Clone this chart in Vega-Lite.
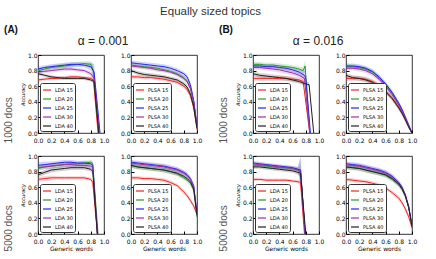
{
"$schema":"https://vega.github.io/schema/vega-lite/v6.json",
"padding":{"left":4,"top":6,"right":6,"bottom":2},
"title":{"text":"Equally sized topics","fontSize":11.5,"font":"Liberation Sans","fontWeight":"normal","color":"#333","anchor":"middle","offset":7},
"config":{
 "view":{"stroke":"#000","strokeWidth":0.8},
 "axis":{"labelFont":"DejaVu Sans","labelFontSize":6,"labelColor":"#000","tickColor":"#000","tickSize":-3,"labelPadding":4,"labelOverlap":false,"labelFlush":false,"domain":false,"grid":false,"titleColor":"#000","titleFont":"DejaVu Sans","titleFontWeight":"normal"},
 "axisY":{"titleFontSize":5,"titleFontStyle":"italic","titlePadding":2,"titleColor":"#000"},
 "axisX":{"titleFontSize":6,"titlePadding":1,"titleColor":"#000","labelPadding":7},
 "legend":{"orient":"bottom-left","title":null,"symbolType":"stroke","symbolStrokeWidth":1.2,"symbolSize":64,"symbolOpacity":1,"labelFontSize":5,"labelFont":"DejaVu Sans","labelColor":"#000","strokeColor":"#333","fillColor":"#fff","padding":2,"rowPadding":1,"offset":2,"cornerRadius":2,"labelOffset":3},
 "title":{"font":"Liberation Sans","fontWeight":"normal","color":"#333"}
},
"datasets":{
"A1L":[
{"s":"LDA 15","x":0,"y":0.68,"e":0.02},{"s":"LDA 15","x":0.1,"y":0.69,"e":0.02},{"s":"LDA 15","x":0.2,"y":0.70,"e":0.02},{"s":"LDA 15","x":0.3,"y":0.70,"e":0.02},{"s":"LDA 15","x":0.4,"y":0.71,"e":0.02},{"s":"LDA 15","x":0.5,"y":0.72,"e":0.02},{"s":"LDA 15","x":0.6,"y":0.72,"e":0.02},{"s":"LDA 15","x":0.7,"y":0.71,"e":0.02},{"s":"LDA 15","x":0.8,"y":0.70,"e":0.02},{"s":"LDA 15","x":0.84,"y":0.68,"e":0.04},{"s":"LDA 15","x":0.91,"y":0,"e":0.03},
{"s":"LDA 20","x":0,"y":0.80,"e":0.03},{"s":"LDA 20","x":0.1,"y":0.82,"e":0.03},{"s":"LDA 20","x":0.2,"y":0.84,"e":0.03},{"s":"LDA 20","x":0.3,"y":0.85,"e":0.03},{"s":"LDA 20","x":0.4,"y":0.86,"e":0.03},{"s":"LDA 20","x":0.5,"y":0.87,"e":0.03},{"s":"LDA 20","x":0.6,"y":0.88,"e":0.03},{"s":"LDA 20","x":0.7,"y":0.89,"e":0.03},{"s":"LDA 20","x":0.8,"y":0.88,"e":0.04},{"s":"LDA 20","x":0.84,"y":0.80,"e":0.08},{"s":"LDA 20","x":0.92,"y":0,"e":0.03},
{"s":"LDA 25","x":0,"y":0.82,"e":0.03},{"s":"LDA 25","x":0.1,"y":0.84,"e":0.03},{"s":"LDA 25","x":0.2,"y":0.85,"e":0.03},{"s":"LDA 25","x":0.3,"y":0.86,"e":0.03},{"s":"LDA 25","x":0.4,"y":0.87,"e":0.03},{"s":"LDA 25","x":0.5,"y":0.88,"e":0.03},{"s":"LDA 25","x":0.6,"y":0.88,"e":0.03},{"s":"LDA 25","x":0.7,"y":0.87,"e":0.03},{"s":"LDA 25","x":0.8,"y":0.85,"e":0.05},{"s":"LDA 25","x":0.85,"y":0.78,"e":0.1},{"s":"LDA 25","x":0.94,"y":0,"e":0.03},
{"s":"LDA 30","x":0,"y":0.78,"e":0.025},{"s":"LDA 30","x":0.1,"y":0.79,"e":0.025},{"s":"LDA 30","x":0.2,"y":0.80,"e":0.025},{"s":"LDA 30","x":0.3,"y":0.81,"e":0.025},{"s":"LDA 30","x":0.4,"y":0.82,"e":0.025},{"s":"LDA 30","x":0.5,"y":0.82,"e":0.025},{"s":"LDA 30","x":0.6,"y":0.81,"e":0.025},{"s":"LDA 30","x":0.7,"y":0.80,"e":0.025},{"s":"LDA 30","x":0.8,"y":0.76,"e":0.03},{"s":"LDA 30","x":0.85,"y":0.70,"e":0.05},{"s":"LDA 30","x":0.93,"y":0,"e":0.03},
{"s":"LDA 40","x":0,"y":0.76,"e":0.02},{"s":"LDA 40","x":0.1,"y":0.74,"e":0.02},{"s":"LDA 40","x":0.2,"y":0.72,"e":0.02},{"s":"LDA 40","x":0.3,"y":0.71,"e":0.02},{"s":"LDA 40","x":0.4,"y":0.70,"e":0.02},{"s":"LDA 40","x":0.5,"y":0.70,"e":0.02},{"s":"LDA 40","x":0.6,"y":0.70,"e":0.02},{"s":"LDA 40","x":0.7,"y":0.70,"e":0.02},{"s":"LDA 40","x":0.8,"y":0.68,"e":0.02},{"s":"LDA 40","x":0.85,"y":0.66,"e":0.03},{"s":"LDA 40","x":0.92,"y":0,"e":0.03}
],
"A1P":[
{"s":"PLSA 15","x":0,"y":0.72,"e":0.025},{"s":"PLSA 15","x":0.1,"y":0.72,"e":0.025},{"s":"PLSA 15","x":0.2,"y":0.71,"e":0.025},{"s":"PLSA 15","x":0.3,"y":0.71,"e":0.025},{"s":"PLSA 15","x":0.4,"y":0.70,"e":0.025},{"s":"PLSA 15","x":0.5,"y":0.69,"e":0.025},{"s":"PLSA 15","x":0.6,"y":0.67,"e":0.025},{"s":"PLSA 15","x":0.7,"y":0.65,"e":0.025},{"s":"PLSA 15","x":0.8,"y":0.60,"e":0.03},{"s":"PLSA 15","x":0.85,"y":0.56,"e":0.03},{"s":"PLSA 15","x":0.9,"y":0.48,"e":0.03},{"s":"PLSA 15","x":0.95,"y":0.32,"e":0.03},{"s":"PLSA 15","x":1,"y":0.05,"e":0.03},
{"s":"PLSA 20","x":0,"y":0.87,"e":0.025},{"s":"PLSA 20","x":0.1,"y":0.86,"e":0.025},{"s":"PLSA 20","x":0.2,"y":0.85,"e":0.025},{"s":"PLSA 20","x":0.3,"y":0.84,"e":0.025},{"s":"PLSA 20","x":0.4,"y":0.83,"e":0.025},{"s":"PLSA 20","x":0.5,"y":0.81,"e":0.025},{"s":"PLSA 20","x":0.6,"y":0.79,"e":0.025},{"s":"PLSA 20","x":0.7,"y":0.76,"e":0.025},{"s":"PLSA 20","x":0.8,"y":0.71,"e":0.03},{"s":"PLSA 20","x":0.85,"y":0.67,"e":0.03},{"s":"PLSA 20","x":0.9,"y":0.58,"e":0.03},{"s":"PLSA 20","x":0.95,"y":0.40,"e":0.03},{"s":"PLSA 20","x":1,"y":0.08,"e":0.03},
{"s":"PLSA 25","x":0,"y":0.90,"e":0.03},{"s":"PLSA 25","x":0.1,"y":0.89,"e":0.03},{"s":"PLSA 25","x":0.2,"y":0.88,"e":0.03},{"s":"PLSA 25","x":0.3,"y":0.87,"e":0.03},{"s":"PLSA 25","x":0.4,"y":0.86,"e":0.03},{"s":"PLSA 25","x":0.5,"y":0.85,"e":0.03},{"s":"PLSA 25","x":0.6,"y":0.83,"e":0.03},{"s":"PLSA 25","x":0.7,"y":0.80,"e":0.03},{"s":"PLSA 25","x":0.8,"y":0.76,"e":0.03},{"s":"PLSA 25","x":0.85,"y":0.72,"e":0.03},{"s":"PLSA 25","x":0.9,"y":0.62,"e":0.03},{"s":"PLSA 25","x":0.95,"y":0.42,"e":0.03},{"s":"PLSA 25","x":1,"y":0.08,"e":0.03},
{"s":"PLSA 30","x":0,"y":0.86,"e":0.025},{"s":"PLSA 30","x":0.1,"y":0.85,"e":0.025},{"s":"PLSA 30","x":0.2,"y":0.84,"e":0.025},{"s":"PLSA 30","x":0.3,"y":0.83,"e":0.025},{"s":"PLSA 30","x":0.4,"y":0.81,"e":0.025},{"s":"PLSA 30","x":0.5,"y":0.80,"e":0.025},{"s":"PLSA 30","x":0.6,"y":0.78,"e":0.025},{"s":"PLSA 30","x":0.7,"y":0.75,"e":0.025},{"s":"PLSA 30","x":0.8,"y":0.70,"e":0.03},{"s":"PLSA 30","x":0.85,"y":0.66,"e":0.03},{"s":"PLSA 30","x":0.9,"y":0.57,"e":0.03},{"s":"PLSA 30","x":0.95,"y":0.40,"e":0.03},{"s":"PLSA 30","x":1,"y":0.08,"e":0.03},
{"s":"PLSA 40","x":0,"y":0.80,"e":0.025},{"s":"PLSA 40","x":0.1,"y":0.77,"e":0.025},{"s":"PLSA 40","x":0.2,"y":0.75,"e":0.025},{"s":"PLSA 40","x":0.3,"y":0.74,"e":0.025},{"s":"PLSA 40","x":0.4,"y":0.73,"e":0.025},{"s":"PLSA 40","x":0.5,"y":0.72,"e":0.025},{"s":"PLSA 40","x":0.6,"y":0.70,"e":0.025},{"s":"PLSA 40","x":0.7,"y":0.68,"e":0.025},{"s":"PLSA 40","x":0.8,"y":0.63,"e":0.03},{"s":"PLSA 40","x":0.85,"y":0.59,"e":0.03},{"s":"PLSA 40","x":0.9,"y":0.50,"e":0.03},{"s":"PLSA 40","x":0.95,"y":0.34,"e":0.03},{"s":"PLSA 40","x":1,"y":0.06,"e":0.03}
],
"A2L":[
{"s":"LDA 15","x":0,"y":0.70,"e":0.03},{"s":"LDA 15","x":0.1,"y":0.71,"e":0.03},{"s":"LDA 15","x":0.2,"y":0.72,"e":0.03},{"s":"LDA 15","x":0.3,"y":0.72,"e":0.02},{"s":"LDA 15","x":0.4,"y":0.72,"e":0.02},{"s":"LDA 15","x":0.5,"y":0.72,"e":0.02},{"s":"LDA 15","x":0.6,"y":0.72,"e":0.02},{"s":"LDA 15","x":0.7,"y":0.72,"e":0.02},{"s":"LDA 15","x":0.8,"y":0.70,"e":0.02},{"s":"LDA 15","x":0.83,"y":0.66,"e":0.03},{"s":"LDA 15","x":0.9,"y":0,"e":0.03},
{"s":"LDA 20","x":0,"y":0.84,"e":0.03},{"s":"LDA 20","x":0.1,"y":0.86,"e":0.03},{"s":"LDA 20","x":0.2,"y":0.87,"e":0.03},{"s":"LDA 20","x":0.3,"y":0.88,"e":0.03},{"s":"LDA 20","x":0.4,"y":0.89,"e":0.03},{"s":"LDA 20","x":0.5,"y":0.90,"e":0.03},{"s":"LDA 20","x":0.6,"y":0.90,"e":0.03},{"s":"LDA 20","x":0.7,"y":0.91,"e":0.03},{"s":"LDA 20","x":0.8,"y":0.92,"e":0.03},{"s":"LDA 20","x":0.83,"y":0.90,"e":0.04},{"s":"LDA 20","x":0.91,"y":0,"e":0.03},
{"s":"LDA 25","x":0,"y":0.88,"e":0.04},{"s":"LDA 25","x":0.1,"y":0.89,"e":0.04},{"s":"LDA 25","x":0.2,"y":0.90,"e":0.03},{"s":"LDA 25","x":0.3,"y":0.91,"e":0.03},{"s":"LDA 25","x":0.4,"y":0.92,"e":0.03},{"s":"LDA 25","x":0.5,"y":0.92,"e":0.03},{"s":"LDA 25","x":0.6,"y":0.91,"e":0.03},{"s":"LDA 25","x":0.7,"y":0.91,"e":0.03},{"s":"LDA 25","x":0.8,"y":0.90,"e":0.03},{"s":"LDA 25","x":0.83,"y":0.88,"e":0.04},{"s":"LDA 25","x":0.9,"y":0,"e":0.03},
{"s":"LDA 30","x":0,"y":0.85,"e":0.03},{"s":"LDA 30","x":0.1,"y":0.86,"e":0.03},{"s":"LDA 30","x":0.2,"y":0.87,"e":0.03},{"s":"LDA 30","x":0.3,"y":0.88,"e":0.03},{"s":"LDA 30","x":0.4,"y":0.89,"e":0.03},{"s":"LDA 30","x":0.5,"y":0.89,"e":0.03},{"s":"LDA 30","x":0.6,"y":0.88,"e":0.03},{"s":"LDA 30","x":0.7,"y":0.88,"e":0.03},{"s":"LDA 30","x":0.8,"y":0.87,"e":0.03},{"s":"LDA 30","x":0.83,"y":0.85,"e":0.03},{"s":"LDA 30","x":0.9,"y":0,"e":0.03},
{"s":"LDA 40","x":0,"y":0.76,"e":0.03},{"s":"LDA 40","x":0.1,"y":0.79,"e":0.03},{"s":"LDA 40","x":0.2,"y":0.82,"e":0.03},{"s":"LDA 40","x":0.3,"y":0.83,"e":0.03},{"s":"LDA 40","x":0.4,"y":0.84,"e":0.03},{"s":"LDA 40","x":0.5,"y":0.85,"e":0.03},{"s":"LDA 40","x":0.6,"y":0.85,"e":0.03},{"s":"LDA 40","x":0.7,"y":0.85,"e":0.03},{"s":"LDA 40","x":0.8,"y":0.83,"e":0.03},{"s":"LDA 40","x":0.83,"y":0.80,"e":0.03},{"s":"LDA 40","x":0.9,"y":0,"e":0.03}
],
"A2P":[
{"s":"PLSA 15","x":0,"y":0.72,"e":0.025},{"s":"PLSA 15","x":0.1,"y":0.72,"e":0.025},{"s":"PLSA 15","x":0.2,"y":0.71,"e":0.025},{"s":"PLSA 15","x":0.3,"y":0.71,"e":0.025},{"s":"PLSA 15","x":0.4,"y":0.70,"e":0.025},{"s":"PLSA 15","x":0.5,"y":0.69,"e":0.025},{"s":"PLSA 15","x":0.6,"y":0.66,"e":0.025},{"s":"PLSA 15","x":0.7,"y":0.62,"e":0.025},{"s":"PLSA 15","x":0.8,"y":0.54,"e":0.03},{"s":"PLSA 15","x":0.85,"y":0.49,"e":0.03},{"s":"PLSA 15","x":0.9,"y":0.43,"e":0.03},{"s":"PLSA 15","x":0.95,"y":0.36,"e":0.03},{"s":"PLSA 15","x":1,"y":0.25,"e":0.03},
{"s":"PLSA 20","x":0,"y":0.88,"e":0.03},{"s":"PLSA 20","x":0.1,"y":0.86,"e":0.03},{"s":"PLSA 20","x":0.2,"y":0.85,"e":0.03},{"s":"PLSA 20","x":0.3,"y":0.84,"e":0.03},{"s":"PLSA 20","x":0.4,"y":0.83,"e":0.03},{"s":"PLSA 20","x":0.5,"y":0.82,"e":0.03},{"s":"PLSA 20","x":0.6,"y":0.80,"e":0.03},{"s":"PLSA 20","x":0.7,"y":0.77,"e":0.03},{"s":"PLSA 20","x":0.8,"y":0.72,"e":0.03},{"s":"PLSA 20","x":0.85,"y":0.69,"e":0.03},{"s":"PLSA 20","x":0.9,"y":0.65,"e":0.03},{"s":"PLSA 20","x":0.95,"y":0.56,"e":0.03},{"s":"PLSA 20","x":1,"y":0.22,"e":0.03},
{"s":"PLSA 25","x":0,"y":0.92,"e":0.03},{"s":"PLSA 25","x":0.1,"y":0.91,"e":0.03},{"s":"PLSA 25","x":0.2,"y":0.90,"e":0.03},{"s":"PLSA 25","x":0.3,"y":0.89,"e":0.03},{"s":"PLSA 25","x":0.4,"y":0.88,"e":0.03},{"s":"PLSA 25","x":0.5,"y":0.87,"e":0.03},{"s":"PLSA 25","x":0.6,"y":0.85,"e":0.03},{"s":"PLSA 25","x":0.7,"y":0.83,"e":0.03},{"s":"PLSA 25","x":0.8,"y":0.79,"e":0.03},{"s":"PLSA 25","x":0.85,"y":0.76,"e":0.03},{"s":"PLSA 25","x":0.9,"y":0.71,"e":0.03},{"s":"PLSA 25","x":0.95,"y":0.62,"e":0.03},{"s":"PLSA 25","x":1,"y":0.26,"e":0.03},
{"s":"PLSA 30","x":0,"y":0.91,"e":0.03},{"s":"PLSA 30","x":0.1,"y":0.90,"e":0.03},{"s":"PLSA 30","x":0.2,"y":0.89,"e":0.03},{"s":"PLSA 30","x":0.3,"y":0.88,"e":0.03},{"s":"PLSA 30","x":0.4,"y":0.87,"e":0.03},{"s":"PLSA 30","x":0.5,"y":0.86,"e":0.03},{"s":"PLSA 30","x":0.6,"y":0.84,"e":0.03},{"s":"PLSA 30","x":0.7,"y":0.82,"e":0.03},{"s":"PLSA 30","x":0.8,"y":0.78,"e":0.03},{"s":"PLSA 30","x":0.85,"y":0.75,"e":0.03},{"s":"PLSA 30","x":0.9,"y":0.70,"e":0.03},{"s":"PLSA 30","x":0.95,"y":0.61,"e":0.03},{"s":"PLSA 30","x":1,"y":0.26,"e":0.03},
{"s":"PLSA 40","x":0,"y":0.88,"e":0.03},{"s":"PLSA 40","x":0.1,"y":0.86,"e":0.03},{"s":"PLSA 40","x":0.2,"y":0.85,"e":0.03},{"s":"PLSA 40","x":0.3,"y":0.84,"e":0.03},{"s":"PLSA 40","x":0.4,"y":0.83,"e":0.03},{"s":"PLSA 40","x":0.5,"y":0.82,"e":0.03},{"s":"PLSA 40","x":0.6,"y":0.80,"e":0.03},{"s":"PLSA 40","x":0.7,"y":0.78,"e":0.03},{"s":"PLSA 40","x":0.8,"y":0.74,"e":0.03},{"s":"PLSA 40","x":0.85,"y":0.71,"e":0.03},{"s":"PLSA 40","x":0.9,"y":0.67,"e":0.03},{"s":"PLSA 40","x":0.95,"y":0.58,"e":0.03},{"s":"PLSA 40","x":1,"y":0.24,"e":0.03}
],
"B1L":[
{"s":"LDA 15","x":0,"y":0.70,"e":0.03},{"s":"LDA 15","x":0.1,"y":0.70,"e":0.03},{"s":"LDA 15","x":0.2,"y":0.70,"e":0.03},{"s":"LDA 15","x":0.3,"y":0.70,"e":0.03},{"s":"LDA 15","x":0.4,"y":0.70,"e":0.03},{"s":"LDA 15","x":0.5,"y":0.70,"e":0.03},{"s":"LDA 15","x":0.6,"y":0.69,"e":0.03},{"s":"LDA 15","x":0.7,"y":0.68,"e":0.03},{"s":"LDA 15","x":0.76,"y":0.66,"e":0.04},{"s":"LDA 15","x":0.86,"y":0,"e":0.03},
{"s":"LDA 20","x":0,"y":0.88,"e":0.03},{"s":"LDA 20","x":0.1,"y":0.88,"e":0.03},{"s":"LDA 20","x":0.2,"y":0.87,"e":0.03},{"s":"LDA 20","x":0.3,"y":0.87,"e":0.03},{"s":"LDA 20","x":0.4,"y":0.86,"e":0.03},{"s":"LDA 20","x":0.5,"y":0.85,"e":0.03},{"s":"LDA 20","x":0.6,"y":0.84,"e":0.03},{"s":"LDA 20","x":0.7,"y":0.82,"e":0.03},{"s":"LDA 20","x":0.76,"y":0.80,"e":0.04},{"s":"LDA 20","x":0.79,"y":0.86,"e":0.08},{"s":"LDA 20","x":0.86,"y":0,"e":0.03},
{"s":"LDA 25","x":0,"y":0.86,"e":0.03},{"s":"LDA 25","x":0.1,"y":0.86,"e":0.03},{"s":"LDA 25","x":0.2,"y":0.85,"e":0.03},{"s":"LDA 25","x":0.3,"y":0.85,"e":0.03},{"s":"LDA 25","x":0.4,"y":0.84,"e":0.03},{"s":"LDA 25","x":0.5,"y":0.83,"e":0.03},{"s":"LDA 25","x":0.6,"y":0.81,"e":0.03},{"s":"LDA 25","x":0.7,"y":0.78,"e":0.03},{"s":"LDA 25","x":0.78,"y":0.74,"e":0.06},{"s":"LDA 25","x":0.8,"y":0.70,"e":0.1},{"s":"LDA 25","x":0.87,"y":0,"e":0.03},
{"s":"LDA 30","x":0,"y":0.84,"e":0.03},{"s":"LDA 30","x":0.1,"y":0.84,"e":0.03},{"s":"LDA 30","x":0.2,"y":0.83,"e":0.03},{"s":"LDA 30","x":0.3,"y":0.82,"e":0.03},{"s":"LDA 30","x":0.4,"y":0.81,"e":0.03},{"s":"LDA 30","x":0.5,"y":0.79,"e":0.03},{"s":"LDA 30","x":0.6,"y":0.77,"e":0.03},{"s":"LDA 30","x":0.7,"y":0.74,"e":0.03},{"s":"LDA 30","x":0.78,"y":0.70,"e":0.04},{"s":"LDA 30","x":0.86,"y":0,"e":0.03},
{"s":"LDA 40","x":0,"y":0.76,"e":0.03},{"s":"LDA 40","x":0.1,"y":0.74,"e":0.03},{"s":"LDA 40","x":0.2,"y":0.73,"e":0.03},{"s":"LDA 40","x":0.3,"y":0.72,"e":0.03},{"s":"LDA 40","x":0.4,"y":0.71,"e":0.03},{"s":"LDA 40","x":0.5,"y":0.70,"e":0.03},{"s":"LDA 40","x":0.6,"y":0.68,"e":0.03},{"s":"LDA 40","x":0.7,"y":0.66,"e":0.03},{"s":"LDA 40","x":0.8,"y":0.63,"e":0.03},{"s":"LDA 40","x":0.85,"y":0.62,"e":0.03},{"s":"LDA 40","x":0.92,"y":0,"e":0.03}
],
"B1P":[
{"s":"PLSA 15","x":0,"y":0.70,"e":0.03},{"s":"PLSA 15","x":0.1,"y":0.70,"e":0.03},{"s":"PLSA 15","x":0.2,"y":0.70,"e":0.03},{"s":"PLSA 15","x":0.3,"y":0.69,"e":0.03},{"s":"PLSA 15","x":0.4,"y":0.66,"e":0.03},{"s":"PLSA 15","x":0.5,"y":0.61,"e":0.03},{"s":"PLSA 15","x":0.6,"y":0.54,"e":0.03},{"s":"PLSA 15","x":0.7,"y":0.45,"e":0.03},{"s":"PLSA 15","x":0.8,"y":0.33,"e":0.03},{"s":"PLSA 15","x":0.85,"y":0.26,"e":0.03},{"s":"PLSA 15","x":0.9,"y":0.17,"e":0.03},{"s":"PLSA 15","x":0.95,"y":0.08,"e":0.03},{"s":"PLSA 15","x":1,"y":0,"e":0.02},
{"s":"PLSA 20","x":0,"y":0.85,"e":0.03},{"s":"PLSA 20","x":0.1,"y":0.85,"e":0.03},{"s":"PLSA 20","x":0.2,"y":0.84,"e":0.03},{"s":"PLSA 20","x":0.3,"y":0.82,"e":0.03},{"s":"PLSA 20","x":0.4,"y":0.78,"e":0.03},{"s":"PLSA 20","x":0.5,"y":0.71,"e":0.03},{"s":"PLSA 20","x":0.6,"y":0.62,"e":0.03},{"s":"PLSA 20","x":0.7,"y":0.51,"e":0.03},{"s":"PLSA 20","x":0.8,"y":0.37,"e":0.03},{"s":"PLSA 20","x":0.85,"y":0.29,"e":0.03},{"s":"PLSA 20","x":0.9,"y":0.19,"e":0.03},{"s":"PLSA 20","x":0.95,"y":0.09,"e":0.03},{"s":"PLSA 20","x":1,"y":0,"e":0.02},
{"s":"PLSA 25","x":0,"y":0.86,"e":0.03},{"s":"PLSA 25","x":0.1,"y":0.86,"e":0.03},{"s":"PLSA 25","x":0.2,"y":0.85,"e":0.03},{"s":"PLSA 25","x":0.3,"y":0.83,"e":0.03},{"s":"PLSA 25","x":0.4,"y":0.79,"e":0.03},{"s":"PLSA 25","x":0.5,"y":0.72,"e":0.03},{"s":"PLSA 25","x":0.6,"y":0.63,"e":0.03},{"s":"PLSA 25","x":0.7,"y":0.52,"e":0.03},{"s":"PLSA 25","x":0.8,"y":0.38,"e":0.03},{"s":"PLSA 25","x":0.85,"y":0.30,"e":0.03},{"s":"PLSA 25","x":0.9,"y":0.20,"e":0.03},{"s":"PLSA 25","x":0.95,"y":0.10,"e":0.03},{"s":"PLSA 25","x":1,"y":0,"e":0.02},
{"s":"PLSA 30","x":0,"y":0.83,"e":0.03},{"s":"PLSA 30","x":0.1,"y":0.83,"e":0.03},{"s":"PLSA 30","x":0.2,"y":0.82,"e":0.03},{"s":"PLSA 30","x":0.3,"y":0.80,"e":0.03},{"s":"PLSA 30","x":0.4,"y":0.76,"e":0.03},{"s":"PLSA 30","x":0.5,"y":0.69,"e":0.03},{"s":"PLSA 30","x":0.6,"y":0.60,"e":0.03},{"s":"PLSA 30","x":0.7,"y":0.49,"e":0.03},{"s":"PLSA 30","x":0.8,"y":0.36,"e":0.03},{"s":"PLSA 30","x":0.85,"y":0.28,"e":0.03},{"s":"PLSA 30","x":0.9,"y":0.19,"e":0.03},{"s":"PLSA 30","x":0.95,"y":0.09,"e":0.03},{"s":"PLSA 30","x":1,"y":0,"e":0.02},
{"s":"PLSA 40","x":0,"y":0.74,"e":0.03},{"s":"PLSA 40","x":0.1,"y":0.71,"e":0.03},{"s":"PLSA 40","x":0.2,"y":0.70,"e":0.03},{"s":"PLSA 40","x":0.3,"y":0.68,"e":0.03},{"s":"PLSA 40","x":0.4,"y":0.65,"e":0.03},{"s":"PLSA 40","x":0.5,"y":0.60,"e":0.03},{"s":"PLSA 40","x":0.6,"y":0.53,"e":0.03},{"s":"PLSA 40","x":0.7,"y":0.44,"e":0.03},{"s":"PLSA 40","x":0.8,"y":0.32,"e":0.03},{"s":"PLSA 40","x":0.85,"y":0.25,"e":0.03},{"s":"PLSA 40","x":0.9,"y":0.17,"e":0.03},{"s":"PLSA 40","x":0.95,"y":0.08,"e":0.03},{"s":"PLSA 40","x":1,"y":0,"e":0.02}
],
"B2L":[
{"s":"LDA 15","x":0,"y":0.70,"e":0.02},{"s":"LDA 15","x":0.1,"y":0.70,"e":0.02},{"s":"LDA 15","x":0.2,"y":0.69,"e":0.02},{"s":"LDA 15","x":0.3,"y":0.69,"e":0.02},{"s":"LDA 15","x":0.4,"y":0.69,"e":0.02},{"s":"LDA 15","x":0.5,"y":0.69,"e":0.02},{"s":"LDA 15","x":0.6,"y":0.68,"e":0.02},{"s":"LDA 15","x":0.68,"y":0.67,"e":0.02},{"s":"LDA 15","x":0.72,"y":0.66,"e":0.05},{"s":"LDA 15","x":0.78,"y":0,"e":0.03},
{"s":"LDA 20","x":0,"y":0.88,"e":0.025},{"s":"LDA 20","x":0.1,"y":0.88,"e":0.025},{"s":"LDA 20","x":0.2,"y":0.87,"e":0.025},{"s":"LDA 20","x":0.3,"y":0.86,"e":0.025},{"s":"LDA 20","x":0.4,"y":0.85,"e":0.025},{"s":"LDA 20","x":0.5,"y":0.85,"e":0.025},{"s":"LDA 20","x":0.6,"y":0.84,"e":0.025},{"s":"LDA 20","x":0.68,"y":0.83,"e":0.03},{"s":"LDA 20","x":0.72,"y":0.82,"e":0.15},{"s":"LDA 20","x":0.79,"y":0,"e":0.03},
{"s":"LDA 25","x":0,"y":0.91,"e":0.025},{"s":"LDA 25","x":0.1,"y":0.90,"e":0.025},{"s":"LDA 25","x":0.2,"y":0.89,"e":0.025},{"s":"LDA 25","x":0.3,"y":0.88,"e":0.025},{"s":"LDA 25","x":0.4,"y":0.87,"e":0.025},{"s":"LDA 25","x":0.5,"y":0.86,"e":0.025},{"s":"LDA 25","x":0.6,"y":0.85,"e":0.025},{"s":"LDA 25","x":0.68,"y":0.83,"e":0.03},{"s":"LDA 25","x":0.72,"y":0.82,"e":0.18},{"s":"LDA 25","x":0.79,"y":0,"e":0.03},
{"s":"LDA 30","x":0,"y":0.90,"e":0.025},{"s":"LDA 30","x":0.1,"y":0.89,"e":0.025},{"s":"LDA 30","x":0.2,"y":0.88,"e":0.025},{"s":"LDA 30","x":0.3,"y":0.87,"e":0.025},{"s":"LDA 30","x":0.4,"y":0.86,"e":0.025},{"s":"LDA 30","x":0.5,"y":0.85,"e":0.025},{"s":"LDA 30","x":0.6,"y":0.84,"e":0.025},{"s":"LDA 30","x":0.68,"y":0.82,"e":0.03},{"s":"LDA 30","x":0.72,"y":0.80,"e":0.08},{"s":"LDA 30","x":0.79,"y":0,"e":0.03},
{"s":"LDA 40","x":0,"y":0.86,"e":0.025},{"s":"LDA 40","x":0.1,"y":0.86,"e":0.025},{"s":"LDA 40","x":0.2,"y":0.85,"e":0.025},{"s":"LDA 40","x":0.3,"y":0.84,"e":0.025},{"s":"LDA 40","x":0.4,"y":0.83,"e":0.025},{"s":"LDA 40","x":0.5,"y":0.82,"e":0.025},{"s":"LDA 40","x":0.6,"y":0.81,"e":0.025},{"s":"LDA 40","x":0.68,"y":0.79,"e":0.03},{"s":"LDA 40","x":0.72,"y":0.78,"e":0.05},{"s":"LDA 40","x":0.8,"y":0,"e":0.03}
],
"B2P":[
{"s":"PLSA 15","x":0,"y":0.70,"e":0.025},{"s":"PLSA 15","x":0.1,"y":0.69,"e":0.025},{"s":"PLSA 15","x":0.2,"y":0.68,"e":0.025},{"s":"PLSA 15","x":0.3,"y":0.67,"e":0.025},{"s":"PLSA 15","x":0.4,"y":0.65,"e":0.025},{"s":"PLSA 15","x":0.5,"y":0.63,"e":0.025},{"s":"PLSA 15","x":0.6,"y":0.59,"e":0.025},{"s":"PLSA 15","x":0.7,"y":0.53,"e":0.025},{"s":"PLSA 15","x":0.8,"y":0.46,"e":0.03},{"s":"PLSA 15","x":0.85,"y":0.40,"e":0.03},{"s":"PLSA 15","x":0.9,"y":0.32,"e":0.03},{"s":"PLSA 15","x":0.95,"y":0.22,"e":0.03},{"s":"PLSA 15","x":1,"y":0.08,"e":0.03},
{"s":"PLSA 20","x":0,"y":0.86,"e":0.03},{"s":"PLSA 20","x":0.1,"y":0.85,"e":0.03},{"s":"PLSA 20","x":0.2,"y":0.84,"e":0.03},{"s":"PLSA 20","x":0.3,"y":0.82,"e":0.03},{"s":"PLSA 20","x":0.4,"y":0.80,"e":0.03},{"s":"PLSA 20","x":0.5,"y":0.78,"e":0.03},{"s":"PLSA 20","x":0.6,"y":0.75,"e":0.03},{"s":"PLSA 20","x":0.7,"y":0.70,"e":0.03},{"s":"PLSA 20","x":0.8,"y":0.63,"e":0.03},{"s":"PLSA 20","x":0.85,"y":0.57,"e":0.03},{"s":"PLSA 20","x":0.9,"y":0.48,"e":0.03},{"s":"PLSA 20","x":0.95,"y":0.34,"e":0.03},{"s":"PLSA 20","x":1,"y":0.10,"e":0.03},
{"s":"PLSA 25","x":0,"y":0.90,"e":0.03},{"s":"PLSA 25","x":0.1,"y":0.89,"e":0.03},{"s":"PLSA 25","x":0.2,"y":0.88,"e":0.03},{"s":"PLSA 25","x":0.3,"y":0.86,"e":0.03},{"s":"PLSA 25","x":0.4,"y":0.84,"e":0.03},{"s":"PLSA 25","x":0.5,"y":0.82,"e":0.03},{"s":"PLSA 25","x":0.6,"y":0.79,"e":0.03},{"s":"PLSA 25","x":0.7,"y":0.74,"e":0.03},{"s":"PLSA 25","x":0.8,"y":0.66,"e":0.03},{"s":"PLSA 25","x":0.85,"y":0.60,"e":0.03},{"s":"PLSA 25","x":0.9,"y":0.50,"e":0.03},{"s":"PLSA 25","x":0.95,"y":0.35,"e":0.03},{"s":"PLSA 25","x":1,"y":0.10,"e":0.03},
{"s":"PLSA 30","x":0,"y":0.89,"e":0.03},{"s":"PLSA 30","x":0.1,"y":0.88,"e":0.03},{"s":"PLSA 30","x":0.2,"y":0.87,"e":0.03},{"s":"PLSA 30","x":0.3,"y":0.85,"e":0.03},{"s":"PLSA 30","x":0.4,"y":0.83,"e":0.03},{"s":"PLSA 30","x":0.5,"y":0.81,"e":0.03},{"s":"PLSA 30","x":0.6,"y":0.78,"e":0.03},{"s":"PLSA 30","x":0.7,"y":0.73,"e":0.03},{"s":"PLSA 30","x":0.8,"y":0.65,"e":0.03},{"s":"PLSA 30","x":0.85,"y":0.59,"e":0.03},{"s":"PLSA 30","x":0.9,"y":0.49,"e":0.03},{"s":"PLSA 30","x":0.95,"y":0.35,"e":0.03},{"s":"PLSA 30","x":1,"y":0.10,"e":0.03},
{"s":"PLSA 40","x":0,"y":0.86,"e":0.03},{"s":"PLSA 40","x":0.1,"y":0.85,"e":0.03},{"s":"PLSA 40","x":0.2,"y":0.84,"e":0.03},{"s":"PLSA 40","x":0.3,"y":0.82,"e":0.03},{"s":"PLSA 40","x":0.4,"y":0.80,"e":0.03},{"s":"PLSA 40","x":0.5,"y":0.78,"e":0.03},{"s":"PLSA 40","x":0.6,"y":0.76,"e":0.03},{"s":"PLSA 40","x":0.7,"y":0.71,"e":0.03},{"s":"PLSA 40","x":0.8,"y":0.64,"e":0.03},{"s":"PLSA 40","x":0.85,"y":0.58,"e":0.03},{"s":"PLSA 40","x":0.9,"y":0.49,"e":0.03},{"s":"PLSA 40","x":0.95,"y":0.34,"e":0.03},{"s":"PLSA 40","x":1,"y":0.10,"e":0.03}
]
},
"spacing":16,
"resolve":{"scale":{"color":"independent"},"legend":{"color":"independent"}},
"hconcat":[
{"title":{"text":"(A)","anchor":"start","fontSize":10,"fontWeight":"bold","color":"#111","offset":0},
 "resolve":{"scale":{"color":"independent"},"legend":{"color":"independent"}},
 "vconcat":[{
 "title":{"text":"α = 0.001","anchor":"middle","fontSize":12,"color":"#222","offset":4},
 "spacing":8,
 "resolve":{"scale":{"color":"independent"},"legend":{"color":"independent"}},
 "vconcat":[
  {"title":{"text":"1000 docs","orient":"left","fontSize":10,"color":"#555","offset":6},"spacing":10,
   "resolve":{"scale":{"color":"independent"},"legend":{"color":"independent"}},
   "hconcat":[
    {"width":66,"height":78,"data":{"name":"A1L"},
     "encoding":{"x":{"field":"x","type":"quantitative","scale":{"domain":[0,1],"nice":false},"axis":{"values":[0,0.2,0.4,0.6,0.8,1],"format":".1f","title":null}},
      "y":{"field":"y","type":"quantitative","scale":{"domain":[0,1],"nice":false,"clamp":true},"axis":{"values":[0,0.2,0.4,0.6,0.8,1],"format":".1f","title":"Accuracy"}},
      "color":{"field":"s","type":"nominal","scale":{"domain":["LDA 15","LDA 20","LDA 25","LDA 30","LDA 40"],"range":["#ee2424","#2a9a2a","#2424ee","#a22ea8","#202020"]}}},
     "layer":[{"mark":{"type":"errorband","opacity":0.2},"encoding":{"yError":{"field":"e"}}},{"mark":{"type":"line","strokeWidth":1,"clip":true},"encoding":{}}]},
    {"width":66,"height":78,"data":{"name":"A1P"},
     "encoding":{"x":{"field":"x","type":"quantitative","scale":{"domain":[0,1],"nice":false},"axis":{"values":[0,0.2,0.4,0.6,0.8,1],"format":".1f","title":null}},
      "y":{"field":"y","type":"quantitative","scale":{"domain":[0,1],"nice":false,"clamp":true},"axis":{"values":[0,0.2,0.4,0.6,0.8,1],"format":".1f","title":null}},
      "color":{"field":"s","type":"nominal","scale":{"domain":["PLSA 15","PLSA 20","PLSA 25","PLSA 30","PLSA 40"],"range":["#ee2424","#2a9a2a","#2424ee","#a22ea8","#202020"]}}},
     "layer":[{"mark":{"type":"errorband","opacity":0.2},"encoding":{"yError":{"field":"e"}}},{"mark":{"type":"line","strokeWidth":1,"clip":true},"encoding":{}}]}
   ]},
  {"title":{"text":"5000 docs","orient":"left","fontSize":10,"color":"#555","offset":6},"spacing":10,
   "resolve":{"scale":{"color":"independent"},"legend":{"color":"independent"}},
   "hconcat":[
    {"width":66,"height":78,"data":{"name":"A2L"},
     "encoding":{"x":{"field":"x","type":"quantitative","scale":{"domain":[0,1],"nice":false},"axis":{"values":[0,0.2,0.4,0.6,0.8,1],"format":".1f","title":"Generic words"}},
      "y":{"field":"y","type":"quantitative","scale":{"domain":[0,1],"nice":false,"clamp":true},"axis":{"values":[0,0.2,0.4,0.6,0.8,1],"format":".1f","title":"Accuracy"}},
      "color":{"field":"s","type":"nominal","scale":{"domain":["LDA 15","LDA 20","LDA 25","LDA 30","LDA 40"],"range":["#ee2424","#2a9a2a","#2424ee","#a22ea8","#202020"]}}},
     "layer":[{"mark":{"type":"errorband","opacity":0.2},"encoding":{"yError":{"field":"e"}}},{"mark":{"type":"line","strokeWidth":1,"clip":true},"encoding":{}}]},
    {"width":66,"height":78,"data":{"name":"A2P"},
     "encoding":{"x":{"field":"x","type":"quantitative","scale":{"domain":[0,1],"nice":false},"axis":{"values":[0,0.2,0.4,0.6,0.8,1],"format":".1f","title":"Generic words"}},
      "y":{"field":"y","type":"quantitative","scale":{"domain":[0,1],"nice":false,"clamp":true},"axis":{"values":[0,0.2,0.4,0.6,0.8,1],"format":".1f","title":null}},
      "color":{"field":"s","type":"nominal","scale":{"domain":["PLSA 15","PLSA 20","PLSA 25","PLSA 30","PLSA 40"],"range":["#ee2424","#2a9a2a","#2424ee","#a22ea8","#202020"]}}},
     "layer":[{"mark":{"type":"errorband","opacity":0.2},"encoding":{"yError":{"field":"e"}}},{"mark":{"type":"line","strokeWidth":1,"clip":true},"encoding":{}}]}
   ]}
 ]}]},
{"title":{"text":"(B)","anchor":"start","fontSize":10,"fontWeight":"bold","color":"#111","offset":0},
 "resolve":{"scale":{"color":"independent"},"legend":{"color":"independent"}},
 "vconcat":[{
 "title":{"text":"α = 0.016","anchor":"middle","fontSize":12,"color":"#222","offset":4},
 "spacing":8,
 "resolve":{"scale":{"color":"independent"},"legend":{"color":"independent"}},
 "vconcat":[
  {"title":{"text":"1000 docs","orient":"left","fontSize":10,"color":"#555","offset":6},"spacing":10,
   "resolve":{"scale":{"color":"independent"},"legend":{"color":"independent"}},
   "hconcat":[
    {"width":66,"height":78,"data":{"name":"B1L"},
     "encoding":{"x":{"field":"x","type":"quantitative","scale":{"domain":[0,1],"nice":false},"axis":{"values":[0,0.2,0.4,0.6,0.8,1],"format":".1f","title":null}},
      "y":{"field":"y","type":"quantitative","scale":{"domain":[0,1],"nice":false,"clamp":true},"axis":{"values":[0,0.2,0.4,0.6,0.8,1],"format":".1f","title":"Accuracy"}},
      "color":{"field":"s","type":"nominal","scale":{"domain":["LDA 15","LDA 20","LDA 25","LDA 30","LDA 40"],"range":["#ee2424","#2a9a2a","#2424ee","#a22ea8","#202020"]}}},
     "layer":[{"mark":{"type":"errorband","opacity":0.2},"encoding":{"yError":{"field":"e"}}},{"mark":{"type":"line","strokeWidth":1,"clip":true},"encoding":{}}]},
    {"width":66,"height":78,"data":{"name":"B1P"},
     "encoding":{"x":{"field":"x","type":"quantitative","scale":{"domain":[0,1],"nice":false},"axis":{"values":[0,0.2,0.4,0.6,0.8,1],"format":".1f","title":null}},
      "y":{"field":"y","type":"quantitative","scale":{"domain":[0,1],"nice":false,"clamp":true},"axis":{"values":[0,0.2,0.4,0.6,0.8,1],"format":".1f","title":null}},
      "color":{"field":"s","type":"nominal","scale":{"domain":["PLSA 15","PLSA 20","PLSA 25","PLSA 30","PLSA 40"],"range":["#ee2424","#2a9a2a","#2424ee","#a22ea8","#202020"]}}},
     "layer":[{"mark":{"type":"errorband","opacity":0.2},"encoding":{"yError":{"field":"e"}}},{"mark":{"type":"line","strokeWidth":1,"clip":true},"encoding":{}}]}
   ]},
  {"title":{"text":"5000 docs","orient":"left","fontSize":10,"color":"#555","offset":6},"spacing":10,
   "resolve":{"scale":{"color":"independent"},"legend":{"color":"independent"}},
   "hconcat":[
    {"width":66,"height":78,"data":{"name":"B2L"},
     "encoding":{"x":{"field":"x","type":"quantitative","scale":{"domain":[0,1],"nice":false},"axis":{"values":[0,0.2,0.4,0.6,0.8,1],"format":".1f","title":"Generic words"}},
      "y":{"field":"y","type":"quantitative","scale":{"domain":[0,1],"nice":false,"clamp":true},"axis":{"values":[0,0.2,0.4,0.6,0.8,1],"format":".1f","title":"Accuracy"}},
      "color":{"field":"s","type":"nominal","scale":{"domain":["LDA 15","LDA 20","LDA 25","LDA 30","LDA 40"],"range":["#ee2424","#2a9a2a","#2424ee","#a22ea8","#202020"]}}},
     "layer":[{"mark":{"type":"errorband","opacity":0.2},"encoding":{"yError":{"field":"e"}}},{"mark":{"type":"line","strokeWidth":1,"clip":true},"encoding":{}}]},
    {"width":66,"height":78,"data":{"name":"B2P"},
     "encoding":{"x":{"field":"x","type":"quantitative","scale":{"domain":[0,1],"nice":false},"axis":{"values":[0,0.2,0.4,0.6,0.8,1],"format":".1f","title":"Generic words"}},
      "y":{"field":"y","type":"quantitative","scale":{"domain":[0,1],"nice":false,"clamp":true},"axis":{"values":[0,0.2,0.4,0.6,0.8,1],"format":".1f","title":null}},
      "color":{"field":"s","type":"nominal","scale":{"domain":["PLSA 15","PLSA 20","PLSA 25","PLSA 30","PLSA 40"],"range":["#ee2424","#2a9a2a","#2424ee","#a22ea8","#202020"]}}},
     "layer":[{"mark":{"type":"errorband","opacity":0.2},"encoding":{"yError":{"field":"e"}}},{"mark":{"type":"line","strokeWidth":1,"clip":true},"encoding":{}}]}
   ]}
 ]}]}
]
}
